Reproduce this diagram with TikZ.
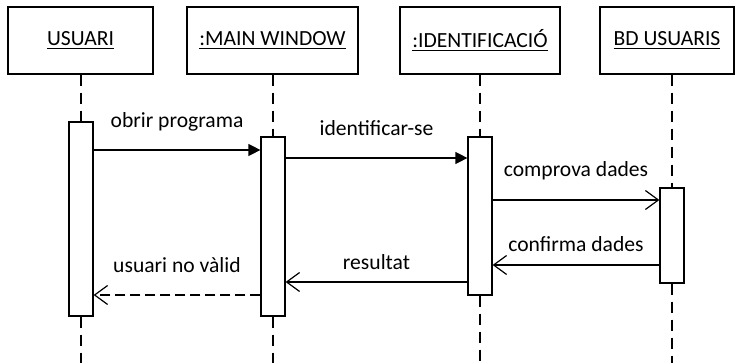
\documentclass[tikz,border=0pt]{standalone}
\usepackage{fontspec}
\setmainfont{Carlito}
\usepackage{tikz}
\usetikzlibrary{arrows.meta, positioning, calc}

\tikzset{
	obj/.style={draw, line width=0.6pt, minimum height=33.5pt, inner sep=0pt, font=\fontsize{10.8}{13}\selectfont},
	act/.style={draw, fill=white, line width=0.6pt, minimum width=12pt, inner sep=0pt},
	life/.style={line width=0.6pt, dash pattern=on 5.5pt off 3.5pt},
	call/.style={line width=0.6pt, -{Triangle[length=6pt, width=6pt]}},
	msg/.style={line width=0.6pt, -{Straight Barb[length=6.5pt, width=9.5pt, line width=0.6pt]}},
	reply/.style={msg, dash pattern=on 5pt off 2.5pt},
	txt/.style={anchor=base, inner sep=0pt, font=\fontsize{10.8}{13}\selectfont}
}

\begin{document}
\begin{tikzpicture}[x=0.5pt, y=-0.5pt]
				\useasboundingbox (0,0) rectangle (735,363);
				
				% objectes
				\node [obj, minimum width=72.5pt] (usr) at (80.5,40.5) {\underline{USUARI}};
				\node [obj, minimum width=85.5pt] (win) at (272.5,40.5) {\underline{:MAIN WINDOW}};
				\node [obj, minimum width=80pt] (idf) at (480,40.5) {\underline{:IDENTIFICACIÓ}};
				\node [obj, minimum width=67pt] (bd) at (667,40.5) {\underline{BD USUARIS}};
				
				% activacions
				\node [act, minimum height=97pt] (uact) at (81,219) {};
				\node [act, minimum height=89.5pt] (wact) at (273,226.5) {};
				\node [act, minimum height=79pt] (iact) at (480,216) {};
				\node [act, minimum height=47.5pt] (bact) at (672,235.5) {};
				
				% linies de vida
				\draw [life] (usr.south -| uact.north) -- (uact.north);
				\draw [life] (uact.south) -- (uact.south |- {(0,363)});
				\draw [life] (win.south -| wact.north) -- (wact.north);
				\draw [life] (wact.south) -- (wact.south |- {(0,363)});
				\draw [life] (idf.south -| iact.north) -- (iact.north);
				\draw [life] (iact.south) -- (iact.south |- {(0,363)});
				\draw [life] (bd.south -| bact.north) -- (bact.north);
				\draw [life] (bact.south) -- (bact.south |- {(0,363)});
				
				% missatges
				\draw [call] (uact.east |- {(0,150)}) -- (wact.west |- {(0,150)}) node [txt, midway, yshift=11pt] {obrir programa};
				\draw [call] (wact.east |- {(0,158)}) -- (iact.west |- {(0,158)}) node [txt, midway, yshift=11pt] {identificar-se};
				\draw [msg] (iact.east |- {(0,200)}) -- (bact.west |- {(0,200)}) node [txt, midway, yshift=11.5pt] {comprova dades};
				\draw [msg] (bact.west |- {(0,265)}) -- (iact.east |- {(0,265)}) node [txt, midway, yshift=6.5pt] {confirma dades};
				\draw [msg] (iact.west |- {(0,282)}) -- (wact.east |- {(0,282)}) node [txt, midway, yshift=6pt] {resultat};
				\draw [reply] (wact.west |- {(0,295)}) -- (uact.east |- {(0,295)}) node [txt, midway, yshift=11pt] {usuari no vàlid};
\end{tikzpicture}
\end{document}
